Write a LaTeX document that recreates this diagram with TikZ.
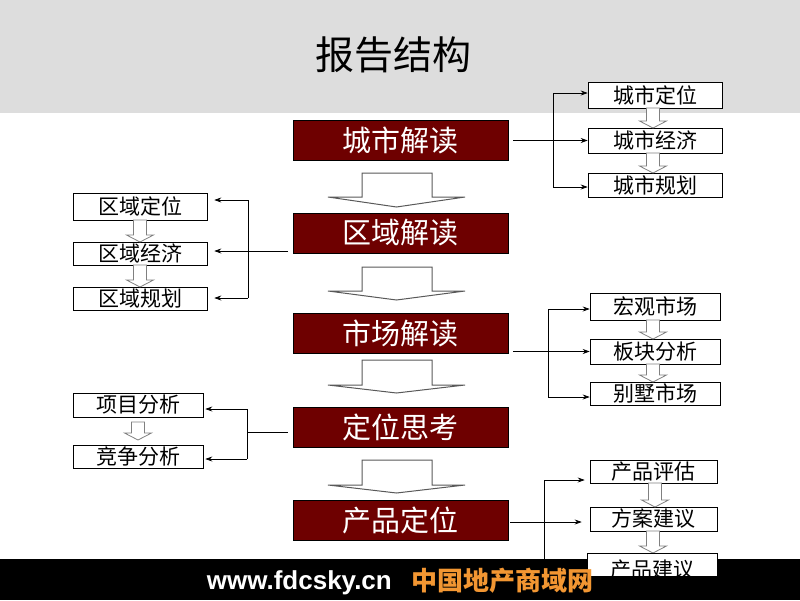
\documentclass[tikz,border=0pt]{standalone}
\usepackage{fontspec}
\newfontfamily\cjk{Noto Sans CJK SC}
\newfontfamily\latinb{Liberation Sans}
\usetikzlibrary{arrows.meta}
\definecolor{hdrgray}{RGB}{221,221,221}
\definecolor{mainred}{RGB}{110,0,0}
\definecolor{footorange}{RGB}{242,150,50}
\definecolor{arrgray}{RGB}{128,128,128}
\tikzset{
  mainbox/.style={draw=black, line width=0.6pt, fill=mainred, text=white, minimum width=215pt, minimum height=40pt, inner sep=0pt, font=\cjk\fontsize{29}{29}\selectfont},
  subbox/.style={draw=black, line width=0.6pt, fill=white, minimum height=25pt, inner sep=0pt, font=\cjk\fontsize{21}{21}\selectfont},
  conn/.style={draw=black, line width=0.7pt},
  arr/.style={conn, -{Stealth[length=7pt,width=5pt]}},
  sarrow/.style={draw=arrgray, line width=0.8pt, fill=white},
  barrow/.style={draw=gray!70!black, line width=1pt, fill=white},
}
\newcommand{\hdnarrow}[3]{\draw[sarrow] (#1-6.5,#2) -- (#1+6.5,#2) -- (#1+6.5,#3-7) -- (#1+13.5,#3-7) -- (#1,#3) -- (#1-13.5,#3-7) -- (#1-6.5,#3-7) -- cycle;}
\newcommand{\bigdnarrow}[3]{\draw[barrow] (362,#1) -- (432,#1) -- (432,#2) -- (465,#2) -- (396.5,#3) -- (328,#2) -- (362,#2) -- cycle;}
\begin{document}
\begin{tikzpicture}[x=1pt,y=-1pt]
\useasboundingbox (0,0) rectangle (800,600);
% header
\fill[hdrgray] (0,0) rectangle (800,113);
\node[font=\cjk\fontsize{39}{39}\selectfont, inner sep=0pt] (title) at (393.5,55) {报告结构};

% main boxes
\node[mainbox] (c1) at (400.5,140.5) {城市解读};
\node[mainbox] (r1) at (400.5,233) {区域解读};
\node[mainbox] (m1) at (400.5,333) {市场解读};
\node[mainbox] (d1) at (400.5,427) {定位思考};
\node[mainbox] (p1) at (400.5,520.5) {产品定位};

% big hollow arrows
\bigdnarrow{173}{197}{207}
\bigdnarrow{267}{291}{300}
\bigdnarrow{360}{385}{393}
\bigdnarrow{460}{485}{493}

% city sub boxes
\node[subbox, minimum width=134pt, minimum height=26pt] (cs1) at (655,95) {城市定位};
\node[subbox, minimum width=134pt] (cs2) at (655,140.5) {城市经济};
\node[subbox, minimum width=134pt, minimum height=24pt] (cs3) at (655,185) {城市规划};
\hdnarrow{653}{108}{128}
\hdnarrow{653}{153}{173}
\coordinate (kc1) at (553,93);
\coordinate (kc3) at (553,187);
\draw[conn] (kc1) -- (kc3);
\draw[arr] (kc1) -- (kc1 -| cs1.west);
\draw[arr] (kc3) -- (kc3 -| cs3.west);
\draw[arr] ([xshift=5pt]c1.east) -- (cs2.west);

% region sub boxes
\node[subbox, minimum width=134pt, minimum height=27pt] (rs1) at (140,206.5) {区域定位};
\node[subbox, minimum width=134pt, minimum height=23pt] (rs2) at (140,253.5) {区域经济};
\node[subbox, minimum width=134pt, minimum height=23pt] (rs3) at (140,298.5) {区域规划};
\hdnarrow{140}{220}{242}
\hdnarrow{140}{265}{287}
\coordinate (kr1) at (248,200);
\coordinate (kr3) at (248,298);
\coordinate (kr2) at (288,251);
\draw[conn] (kr1) -- (kr3);
\draw[arr, shorten >=7pt] (kr1) -- (kr1 -| rs1.east);
\draw[arr, shorten >=7pt] (kr3) -- (kr3 -| rs3.east);
\draw[arr, shorten >=7pt] (kr2) -- (kr2 -| rs2.east);

% market sub boxes
\node[subbox, minimum width=130pt, minimum height=27pt] (ms1) at (655,306.5) {宏观市场};
\node[subbox, minimum width=130pt] (ms2) at (655,351.5) {板块分析};
\node[subbox, minimum width=130pt, minimum height=23pt] (ms3) at (655,393.5) {别墅市场};
\hdnarrow{653}{320}{339}
\hdnarrow{653}{364}{382}
\coordinate (km1) at (548,309);
\coordinate (km3) at (548,397);
\coordinate (km2) at (513,351.5);
\draw[conn] (km1) -- (km3);
\draw[arr] (km1) -- (km1 -| ms1.west);
\draw[arr] (km3) -- (km3 -| ms3.west);
\draw[arr] (km2) -- (ms2.west);

% positioning sub boxes
\node[subbox, minimum width=130pt, minimum height=24pt] (ds1) at (138,405) {项目分析};
\node[subbox, minimum width=130pt, minimum height=23pt] (ds2) at (138,456.5) {竞争分析};
\hdnarrow{138}{422}{440}
\coordinate (kd1) at (247,409);
\coordinate (kd2) at (247,459);
\coordinate (kd0) at (247,432);
\draw[conn] (kd1) -- (kd2);
\draw[conn] ([xshift=-5pt]d1.west |- kd0) -- (kd0);
\draw[arr, shorten >=2pt] (kd1) -- (kd1 -| ds1.east);
\draw[arr, shorten >=2pt] (kd2) -- (kd2 -| ds2.east);

% product sub boxes
\node[subbox, minimum width=127pt, minimum height=23pt] (ps1) at (653.5,471.5) {产品评估};
\node[subbox, minimum width=127pt, minimum height=24pt] (ps2) at (653.5,519) {方案建议};
\hdnarrow{655}{483}{507}
\hdnarrow{653}{531}{553}
\coordinate (kp1) at (544,480);
\coordinate (kp2) at (544,562);
\coordinate (kp0) at (510,522);
\draw[conn] (kp1) -- (kp2);
\draw[arr, shorten >=5pt] (kp1) -- (kp1 -| ps1.west);
\draw[arr, shorten >=8pt] (kp0) -- (kp0 -| ps2.west);

% footer
\fill[black] (0,559) rectangle (800,600);
\node[subbox, minimum width=130pt, minimum height=23pt] (ps3) at (652,564.5) {};
\begin{scope}
\clip (ps3.south west) rectangle (ps3.north east);
\node[font=\cjk\fontsize{21}{21}\selectfont, inner sep=0pt] (ps3t) at (652,570) {产品建议};
\end{scope}
\node[anchor=base east, inner sep=0pt, text=white, font=\latinb\bfseries\fontsize{26}{26}\selectfont] (web) at (392,589) {www.fdcsky.cn};
\node[anchor=base west, inner sep=0pt, text=footorange, font=\cjk\bfseries\fontsize{26}{26}\selectfont] (cn) at (411,590) {中国地产商域网};
\end{tikzpicture}
\end{document}
